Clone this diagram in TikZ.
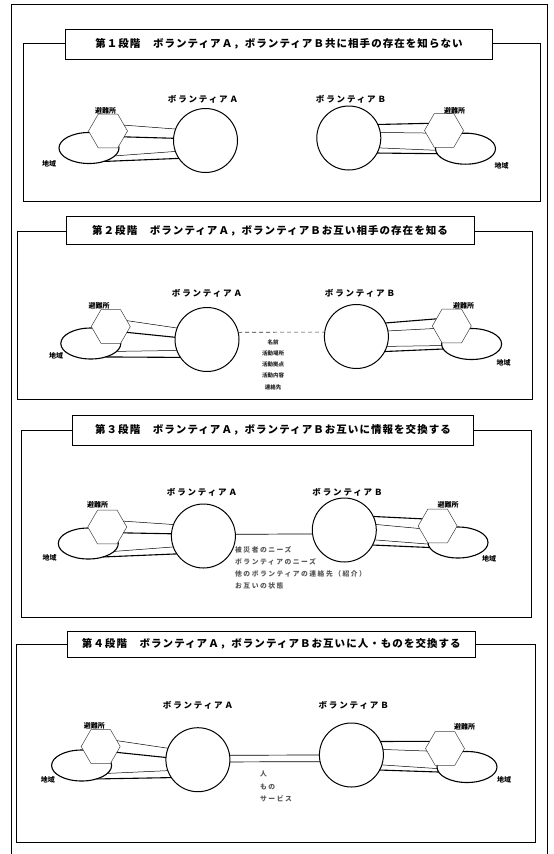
\documentclass[tikz,border=0pt]{standalone}
\usepackage{fontspec}
\newfontfamily\jp{Noto Sans CJK JP}
\newfontfamily\jpwide{Noto Sans CJK JP}[LetterSpace=10]
\newfontfamily\jpwider{Noto Sans CJK JP}[LetterSpace=22]
\usetikzlibrary{shapes.geometric}
\tikzset{
  outer/.style={draw, line width=0.8pt},
  frame/.style={draw, line width=1pt},
  titlebox/.style={draw, fill=white, line width=1pt, inner sep=0pt,
    font=\jpwide\bfseries\fontsize{10.5}{12}\selectfont},
  vol/.style={circle, draw, line width=1pt, minimum size=64pt, inner sep=0pt, outer sep=0pt},
  hexa/.style={regular polygon, regular polygon sides=6, draw=black!75, line width=0.5pt,
    fill=white, minimum size=39pt, inner sep=0pt, outer sep=0pt},
  area/.style={ellipse, draw, line width=1.1pt, minimum width=60pt, minimum height=31pt,
    inner sep=0pt, outer sep=0pt},
  lbl/.style={font=\jpwider\bfseries\fontsize{8.5}{10}\selectfont, inner sep=0pt},
  small/.style={font=\jp\bfseries\fontsize{7}{8}\selectfont, inner sep=0pt},
  tinyinfo/.style={font=\jp\bfseries\fontsize{5.5}{11.2}\selectfont, inner sep=0pt,
    align=center, text=black!85},
  midinfo/.style={font=\jpwider\bfseries\fontsize{6.8}{12.2}\selectfont, inner sep=0pt,
    align=left, anchor=north west, text=black!65},
  thinl/.style={line width=0.5pt},
  thickl/.style={line width=1.1pt},
  midl/.style={line width=0.7pt},
  dashl/.style={line width=0.6pt, dash pattern=on 4pt off 3pt, draw=black!80},
}
\newcommand\mylinksA[1]{%
  \draw[thinl]  (hA#1.20)  -- (cA#1.159);
  \draw[thickl] (hA#1.-20) -- (cA#1.176);
  \draw[thinl]  (eA#1.-17) -- (cA#1.200);
  \draw[thickl] (eA#1.-42) -- (cA#1.214);
}
\newcommand\mylinksB[1]{%
  \draw[thickl] (cB#1.25)  -- (hB#1.155);
  \draw[thinl]  (cB#1.10)  -- (hB#1.188);
  \draw[thinl]  (cB#1.-18) -- (eB#1.183);
  \draw[thickl] (cB#1.-28) -- (eB#1.190);
}
\begin{document}
\begin{tikzpicture}[x=1pt,y=-1pt]
\useasboundingbox (0,0) rectangle (554,854);
\draw[outer] (11,854) -- (11,4.7) -- (547,4.7) -- (547,854);

% ---------------- Panel 1
\draw[frame] (23,43) rectangle (540,201);
\node[titlebox, minimum width=427pt, minimum height=30pt] (t1) at (279,44)
  {第１段階　ボランティアＡ，ボランティアＢ共に相手の存在を知らない};
\node[area] (eA1) at (89,148) {};
\node[hexa] (hA1) at (108,131) {};
\node[vol] (cA1) at (205.5,140.5) {};
\node[lbl] (lA1) at (203,99) {ボランティアＡ};
\node[small] (sA1) at (105.5,110.5) {避難所};
\node[small] (gA1) at (49,164) {地域};
\node[area] (eB1) at (465.5,148.7) {};
\node[hexa] (hB1) at (444,130.5) {};
\node[vol] (cB1) at (348.8,138) {};
\node[lbl] (lB1) at (351,99) {ボランティアＢ};
\node[small] (sB1) at (454.7,111) {避難所};
\node[small] (gB1) at (501.7,166) {地域};
\mylinksA{1}
\mylinksB{1}

% ---------------- Panel 2
\draw[frame] (17,231) rectangle (532,399);
\node[titlebox, minimum width=408pt, minimum height=28pt] (t2) at (270,230.5)
  {第２段階　ボランティアＡ，ボランティアＢお互い相手の存在を知る};
\node[area] (eA2) at (90.8,343.5) {};
\node[hexa] (hA2) at (110.8,326.5) {};
\node[vol] (cA2) at (207,339.5) {};
\node[lbl] (lA2) at (207,293) {ボランティアＡ};
\node[small] (sA2) at (99,305.5) {避難所};
\node[small] (gA2) at (56,356) {地域};
\node[area] (eB2) at (471.6,344) {};
\node[hexa] (hB2) at (451.8,326) {};
\node[vol] (cB2) at (356.4,336.5) {};
\node[lbl] (lB2) at (360,293) {ボランティアＢ};
\node[small] (sB2) at (463.5,305.5) {避難所};
\node[small] (gB2) at (503.5,363) {地域};
\mylinksA{2}
\mylinksB{2}
\draw[dashl] (cA2.13.5) -- (cB2.172);
\node[tinyinfo] (i2) at (273,364.5) {名前\\活動場所\\活動拠点\\活動内容\\連絡先};

% ---------------- Panel 3
\draw[frame] (21,430) rectangle (531,617);
\node[titlebox, minimum width=401pt, minimum height=30pt] (t3) at (273,430)
  {第３段階　ボランティアＡ，ボランティアＢお互いに情報を交換する};
\node[area] (eA3) at (88.3,543.5) {};
\node[hexa] (hA3) at (107.3,527) {};
\node[vol] (cA3) at (203.4,536) {};
\node[lbl] (lA3) at (202,492) {ボランティアＡ};
\node[small] (sA3) at (97.5,505) {避難所};
\node[small] (gA3) at (49.6,558) {地域};
\node[area] (eB3) at (458,542.5) {};
\node[hexa] (hB3) at (437.6,526) {};
\node[vol] (cB3) at (344.3,530) {};
\node[lbl] (lB3) at (347.5,492) {ボランティアＢ};
\node[small] (sB3) at (448,505) {避難所};
\node[small] (gB3) at (489,559) {地域};
\mylinksA{3}
\mylinksB{3}
\draw[midl] (cA3.3.6) -- (cB3.187);
\node[midinfo] (i3) at (235,546)
  {被災者のニーズ\\ボランティアのニーズ\\他のボランティアの連絡先（紹介）\\お互いの状態};

% ---------------- Panel 4
\draw[frame] (16,644) rectangle (535,842);
\node[titlebox, minimum width=408pt, minimum height=26pt] (t4) at (271.3,644)
  {第４段階　ボランティアＡ，ボランティアＢお互いに人・ものを交換する};
\node[area] (eA4) at (81.6,765.5) {};
\node[hexa] (hA4) at (100.7,746.5) {};
\node[vol] (cA4) at (197.9,759.7) {};
\node[lbl] (lA4) at (198,705) {ボランティアＡ};
\node[small] (sA4) at (94.4,725.5) {避難所};
\node[small] (gA4) at (47.9,780) {地域};
\node[area] (eB4) at (467,767) {};
\node[hexa] (hB4) at (445,748.5) {};
\node[vol] (cB4) at (351.4,755) {};
\node[lbl] (lB4) at (353.7,705) {ボランティアＢ};
\node[small] (sB4) at (464.5,726.5) {避難所};
\node[small] (gB4) at (504,780) {地域};
\mylinksA{4}
\mylinksB{4}
\draw[midl] (cA4.8.4) -- (cB4.180);
\draw[midl] (cA4.-4.7) -- (cB4.192.8);
\node[midinfo] (i4) at (260,771) {人\\もの\\サービス};
\end{tikzpicture}
\end{document}
